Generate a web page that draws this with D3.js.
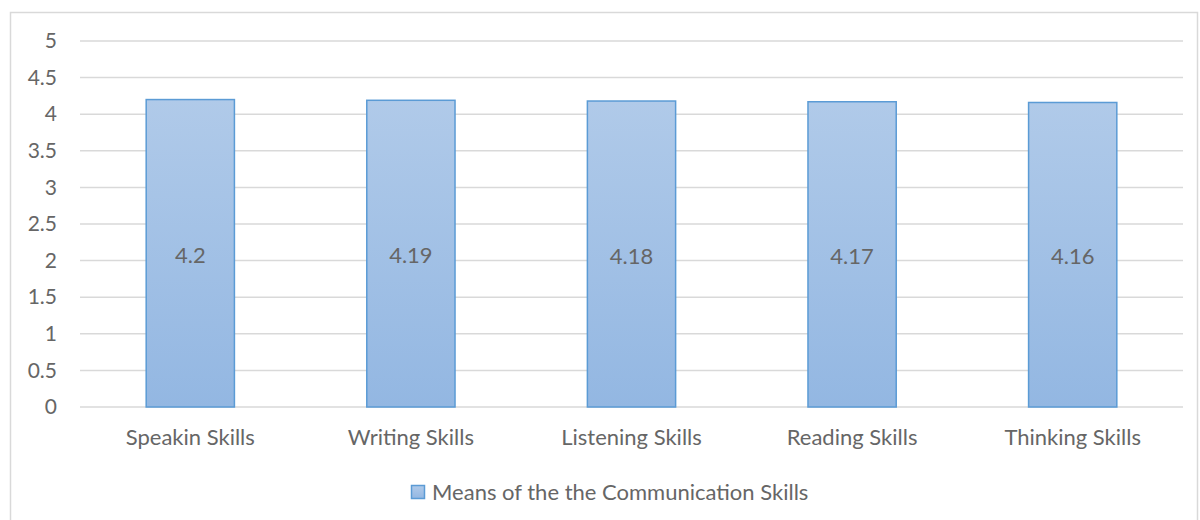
<!DOCTYPE html>
<html>
<head>
<meta charset="utf-8">
<script src="https://cdn.jsdelivr.net/npm/d3@7"></script>
<style>
  body { margin: 0; background: #fff; }
  text { font-family: Lato, "Open Sans", sans-serif; fill: #666666; }
</style>
</head>
<body>
<div id="chart"></div>
<script>
// Data
var categories = ["Speakin Skills", "Writing Skills", "Listening Skills", "Reading Skills", "Thinking Skills"];
var means = [4.2, 4.19, 4.18, 4.17, 4.16];
var yTicks = [0, 0.5, 1, 1.5, 2, 2.5, 3, 3.5, 4, 4.5, 5];
var seriesName = "Means of the the Communication Skills";

var svgWidth = 1200;
var svgHeight = 520;
var margin = { top: 41, right: 17, bottom: 113, left: 80 };
var width = svgWidth - margin.left - margin.right;
var height = svgHeight - margin.top - margin.bottom;

var svg = d3.select('#chart')
    .append('svg')
    .attr('width', svgWidth)
    .attr('height', svgHeight);

// chart area border
svg.append('rect')
    .attr('x', 10.5)
    .attr('y', 12.5)
    .attr('width', 1187)
    .attr('height', 520)
    .attr('fill', 'none')
    .attr('stroke', '#d9d9d9')
    .attr('stroke-width', 1.5);

var defs = svg.append('defs');
var grad = defs.append('linearGradient')
    .attr('id', 'barFill')
    .attr('x1', 0).attr('y1', 0).attr('x2', 0).attr('y2', 1);
grad.append('stop').attr('offset', '0%').attr('stop-color', '#b0cae9');
grad.append('stop').attr('offset', '100%').attr('stop-color', '#93b7e2');

var chartGroup = svg.append('g')
    .attr('transform', `translate(${margin.left}, ${margin.top})`);

var xScale = d3.scaleBand()
    .domain(categories)
    .range([0, width])
    .paddingInner(0.6)
    .paddingOuter(0.3);

var yScale = d3.scaleLinear()
    .domain([0, 5])
    .range([height, 0]);

// gridlines
chartGroup.append('g')
    .selectAll('line')
    .data(yTicks)
    .enter()
    .append('line')
    .attr('x1', 0)
    .attr('x2', width)
    .attr('y1', d => yScale(d))
    .attr('y2', d => yScale(d))
    .attr('stroke', '#d9d9d9')
    .attr('stroke-width', 1.5);

// y axis labels
var leftAxis = d3.axisLeft(yScale).tickValues(yTicks).tickSize(0).tickPadding(23).tickFormat(d3.format('~g'));
var yAxis = chartGroup.append('g').call(leftAxis);
yAxis.select('.domain').remove();
yAxis.selectAll('text').style('font-size', '21px').attr('fill', '#666666');

// x axis labels
var bottomAxis = d3.axisBottom(xScale).tickSize(0).tickPadding(22);
var xAxis = chartGroup.append('g')
    .attr('transform', `translate(0, ${height})`)
    .call(bottomAxis);
xAxis.select('.domain').remove();
xAxis.selectAll('text').style('font-size', '22px').attr('fill', '#666666');

// bars
chartGroup.append('g')
    .selectAll('rect')
    .data(means)
    .enter()
    .append('rect')
    .attr('x', (d, i) => xScale(categories[i]))
    .attr('y', d => yScale(d))
    .attr('width', xScale.bandwidth())
    .attr('height', d => height - yScale(d))
    .attr('fill', 'url(#barFill)')
    .attr('stroke', '#5b9bd5')
    .attr('stroke-width', 1.5);

// value labels
chartGroup.append('g')
    .selectAll('text')
    .data(means)
    .enter()
    .append('text')
    .attr('x', (d, i) => xScale(categories[i]) + xScale.bandwidth() / 2)
    .attr('y', d => (yScale(d) + height) / 2 + 2)
    .attr('text-anchor', 'middle')
    .attr('dy', '0.35em')
    .style('font-size', '22px')
    .text(d => d);

// legend
var legend = svg.append('g')
    .attr('transform', 'translate(411, 485)');
legend.append('rect')
    .attr('x', 0.5)
    .attr('y', 0.5)
    .attr('width', 13)
    .attr('height', 13)
    .attr('fill', 'url(#barFill)')
    .attr('stroke', '#5b9bd5')
    .attr('stroke-width', 1.5);
legend.append('text')
    .attr('x', 21)
    .attr('y', 7)
    .attr('dy', '0.35em')
    .style('font-size', '22px')
    .text(seriesName);
</script>
</body>
</html>
